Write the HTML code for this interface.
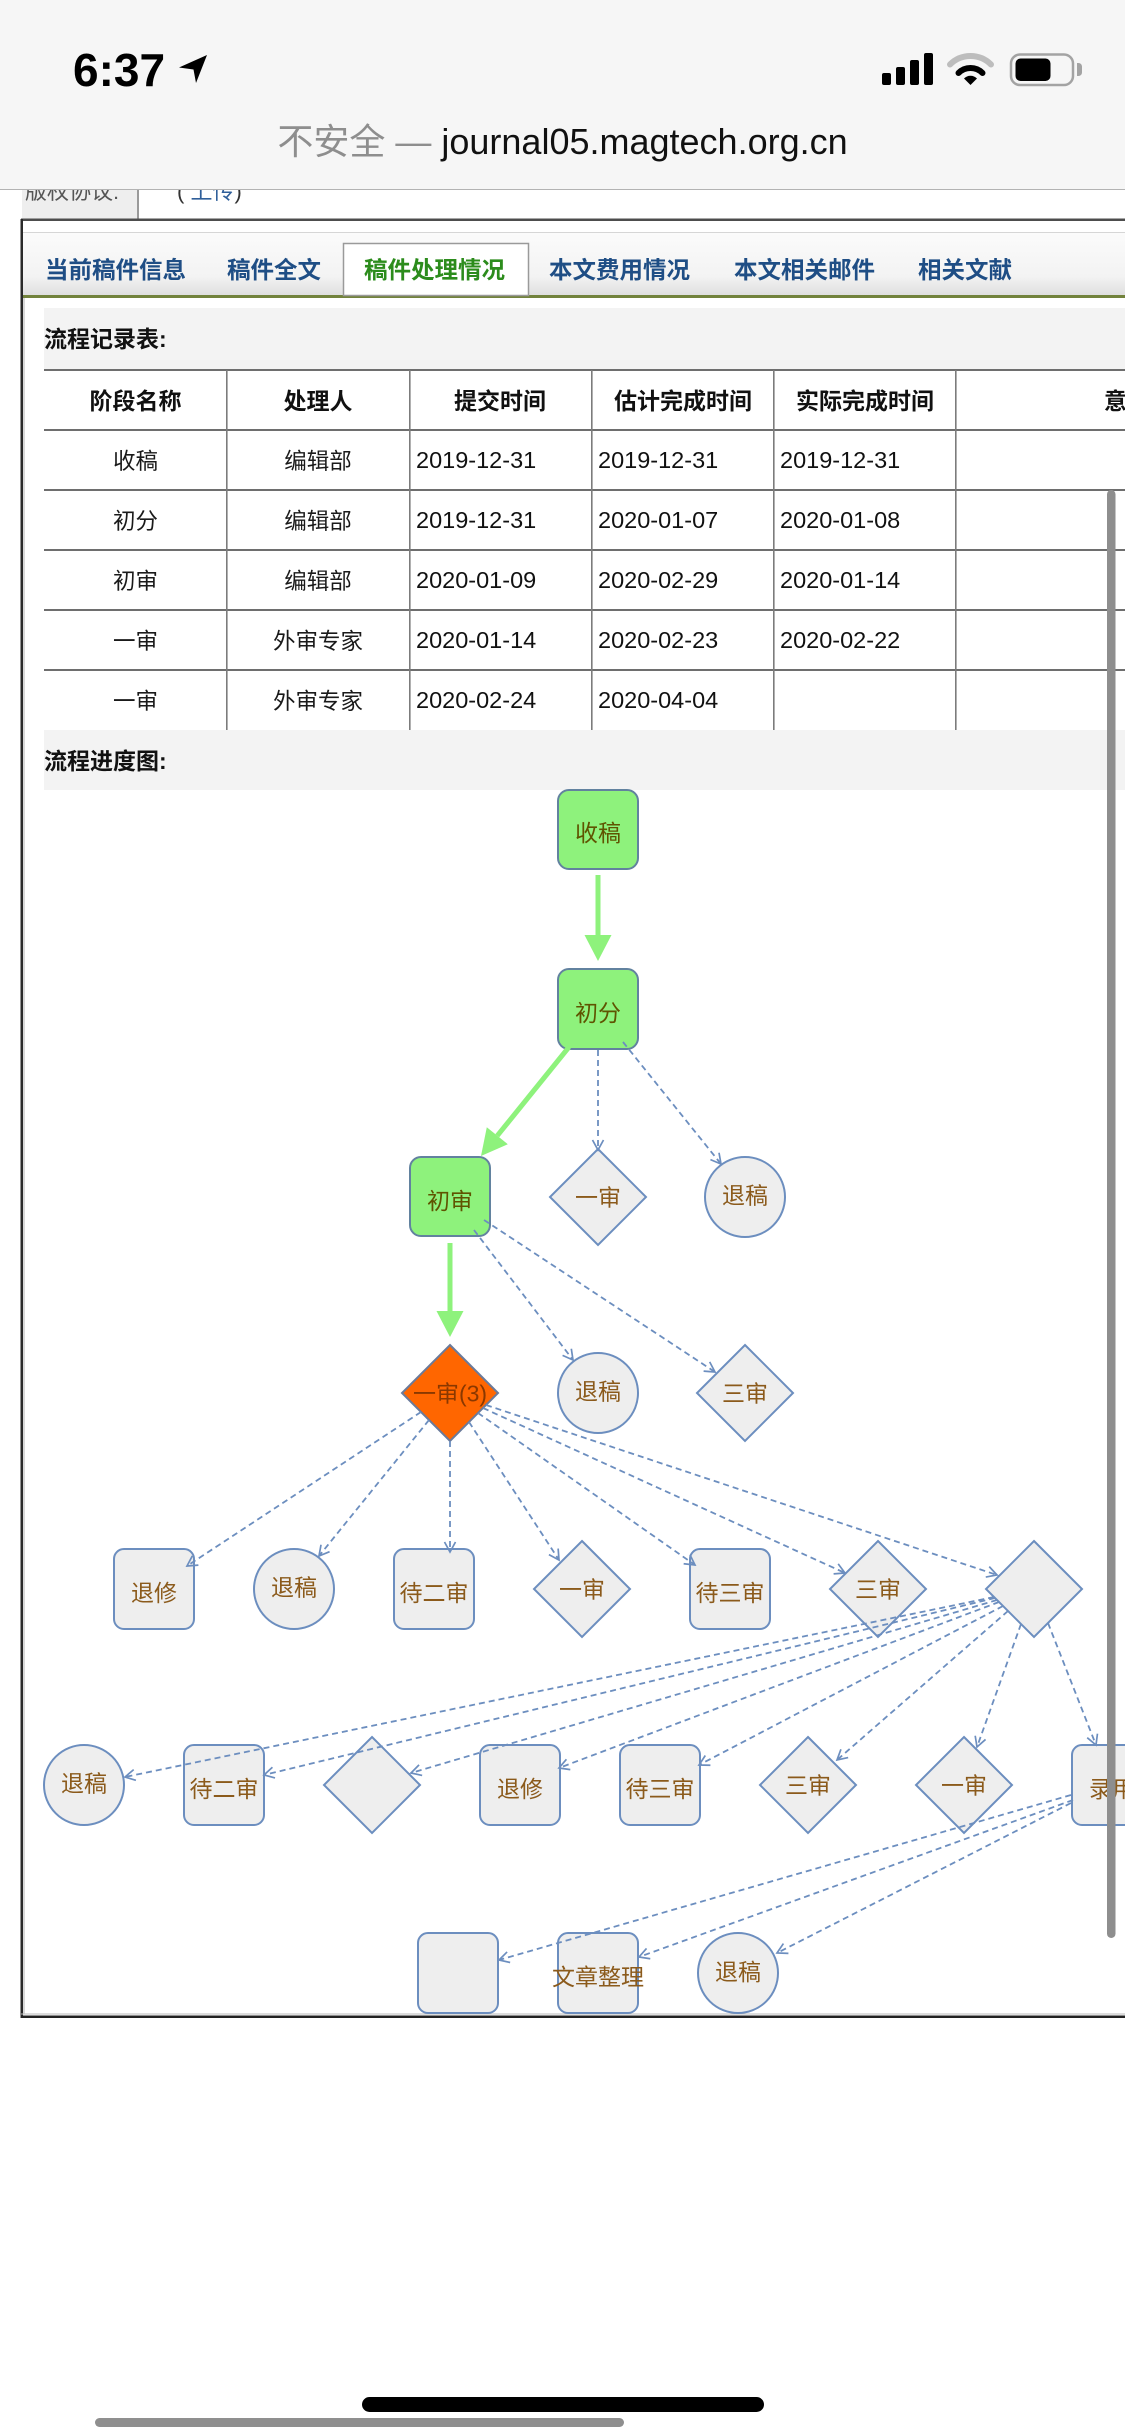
<!DOCTYPE html>
<html><head><meta charset="utf-8">
<style>
*{margin:0;padding:0;box-sizing:border-box}
html,body{width:1125px;height:2436px;overflow:hidden;background:#fff}
svg{position:absolute;left:0;top:0;display:block}
</style></head>
<body>
<svg width="1125" height="2436" viewBox="0 0 1125 2436" xmlns="http://www.w3.org/2000/svg" font-family="'Liberation Sans','Noto Sans CJK SC',sans-serif">
<defs>
<linearGradient id="tabg" x1="0" y1="0" x2="0" y2="1">
<stop offset="0" stop-color="#fbfbfb"/><stop offset="0.7" stop-color="#f3f3f3"/><stop offset="1" stop-color="#dfdfdf"/>
</linearGradient>
<marker id="a" markerUnits="userSpaceOnUse" markerWidth="14" markerHeight="14" refX="12" refY="7" orient="auto" viewBox="0 0 14 14">
<path d="M2,1.5 L12,7 L2,12.5" fill="none" stroke="#6c8ebf" stroke-width="1.7"/>
</marker>
</defs>
<rect width="1125" height="2436" fill="#fff"/>

<!-- partially hidden row -->
<rect x="22" y="160" width="116" height="59" fill="#eeeeee"/>
<rect x="137" y="160" width="2" height="59" fill="#9a9a9a"/>
<text x="25" y="199" font-size="22" fill="#555">版权协议:</text>
<text x="177" y="199" font-size="22" fill="#333">( <tspan fill="#2f5f9a">上传</tspan>)</text>

<!-- lines & tab bar -->
<rect x="21" y="218.5" width="1104" height="2.5" fill="#4d4d4d"/>
<rect x="22" y="232" width="1103" height="1" fill="#d6d6d6"/>
<rect x="22" y="233" width="1103" height="62" fill="url(#tabg)"/>
<rect x="22" y="295" width="1103" height="3" fill="#72823c"/>
<rect x="343.5" y="243.5" width="185" height="52" fill="#fff" stroke="#9a9a9a" stroke-width="1.5"/>
<g font-size="23.5" font-weight="bold" fill="#1f4e85">
<text x="45" y="278">当前稿件信息</text>
<text x="227" y="278">稿件全文</text>
<text x="364" y="278" fill="#2c8c1c">稿件处理情况</text>
<text x="549" y="278">本文费用情况</text>
<text x="734" y="278">本文相关邮件</text>
<text x="918" y="278">相关文献</text>
</g>

<!-- container borders -->
<rect x="20.5" y="219" width="2.5" height="1799" fill="#2a2a2a"/>
<rect x="23.5" y="298" width="1" height="1716" fill="#b0b0b0"/>
<rect x="21" y="2013.5" width="1104" height="1" fill="#bbbbbb"/>
<rect x="21" y="2015.5" width="1104" height="2.5" fill="#222"/>

<!-- section header 1 -->
<rect x="44" y="308" width="1081" height="62" fill="#f3f3f3"/>
<text x="44" y="347" font-size="23" font-weight="bold" fill="#111">流程记录表:</text>

<!-- table lines -->
<g fill="#6e6e6e">
<rect x="44" y="369" width="1081" height="2"/>
<rect x="44" y="429" width="1081" height="2"/>
<rect x="44" y="489" width="1081" height="2"/>
<rect x="44" y="549" width="1081" height="2"/>
<rect x="44" y="609" width="1081" height="2"/>
<rect x="44" y="669" width="1081" height="2"/>
</g>
<g fill="#7c7c7c">
<rect x="226" y="370" width="1.6" height="360"/>
<rect x="409" y="370" width="1.6" height="360"/>
<rect x="591" y="370" width="1.6" height="360"/>
<rect x="773" y="370" width="1.6" height="360"/>
<rect x="955" y="370" width="1.6" height="360"/>
</g>
<g font-size="23" font-weight="bold" fill="#111" text-anchor="middle">
<text x="135.5" y="409">阶段名称</text>
<text x="318" y="409">处理人</text>
<text x="500" y="409">提交时间</text>
<text x="683" y="409">估计完成时间</text>
<text x="865" y="409">实际完成时间</text>
<text x="1104" y="409" text-anchor="start">意见</text>
</g>
<g font-size="22.5" fill="#1a1a1a" text-anchor="middle">
<text x="135.5" y="469">收稿</text><text x="318" y="469">编辑部</text>
<text x="135.5" y="529">初分</text><text x="318" y="529">编辑部</text>
<text x="135.5" y="589">初审</text><text x="318" y="589">编辑部</text>
<text x="135.5" y="649">一审</text><text x="318" y="649">外审专家</text>
<text x="135.5" y="709">一审</text><text x="318" y="709">外审专家</text>
</g>
<g font-size="23.5" fill="#111">
<text x="416" y="468">2019-12-31</text><text x="598" y="468">2019-12-31</text><text x="780" y="468">2019-12-31</text>
<text x="416" y="528">2019-12-31</text><text x="598" y="528">2020-01-07</text><text x="780" y="528">2020-01-08</text>
<text x="416" y="588">2020-01-09</text><text x="598" y="588">2020-02-29</text><text x="780" y="588">2020-01-14</text>
<text x="416" y="648">2020-01-14</text><text x="598" y="648">2020-02-23</text><text x="780" y="648">2020-02-22</text>
<text x="416" y="708">2020-02-24</text><text x="598" y="708">2020-04-04</text>
</g>

<!-- section header 2 -->
<rect x="44" y="730" width="1081" height="60" fill="#f3f3f3"/>
<text x="44" y="769" font-size="23" font-weight="bold" fill="#111">流程进度图:</text>

<!-- ===== DIAGRAM NODES ===== -->
<g stroke-width="2">
<!-- green -->
<rect x="558" y="790" width="80" height="79" rx="11" fill="#8ef27c" stroke="#62829f"/>
<rect x="558" y="969" width="80" height="80" rx="11" fill="#8ef27c" stroke="#62829f"/>
<rect x="410" y="1157" width="80" height="79" rx="11" fill="#8ef27c" stroke="#62829f"/>
<!-- orange diamond -->
<polygon points="450,1345 498,1393 450,1441 402,1393" fill="#ff6600" stroke="#6a7a9a"/>
<!-- gray rects -->
<g fill="#eeeeee" stroke="#6c8ebf">
<rect x="114" y="1549" width="80" height="80" rx="10"/>
<rect x="394" y="1549" width="80" height="80" rx="10"/>
<rect x="690" y="1549" width="80" height="80" rx="10"/>
<rect x="184" y="1745" width="80" height="80" rx="10"/>
<rect x="480" y="1745" width="80" height="80" rx="10"/>
<rect x="620" y="1745" width="80" height="80" rx="10"/>
<rect x="1072" y="1745" width="80" height="80" rx="10"/>
<rect x="418" y="1933" width="80" height="80" rx="10"/>
<rect x="558" y="1933" width="80" height="80" rx="10"/>
<!-- circles -->
<circle cx="745" cy="1197" r="40"/>
<circle cx="598" cy="1393" r="40"/>
<circle cx="294" cy="1589" r="40"/>
<circle cx="84" cy="1785" r="40"/>
<circle cx="738" cy="1973" r="40"/>
<!-- diamonds -->
<polygon points="598,1149 646,1197 598,1245 550,1197"/>
<polygon points="745,1345 793,1393 745,1441 697,1393"/>
<polygon points="582,1541 630,1589 582,1637 534,1589"/>
<polygon points="878,1541 926,1589 878,1637 830,1589"/>
<polygon points="1034,1541 1082,1589 1034,1637 986,1589"/>
<polygon points="372,1737 420,1785 372,1833 324,1785"/>
<polygon points="808,1737 856,1785 808,1833 760,1785"/>
<polygon points="964,1737 1012,1785 964,1833 916,1785"/>
</g>
</g>

<!-- node labels -->
<g font-size="23" text-anchor="middle" fill="#5f5400">
<text x="598" y="841">收稿</text>
<text x="598" y="1021">初分</text>
<text x="450" y="1209">初审</text>
</g>
<text x="450" y="1401.5" font-size="23" text-anchor="middle" fill="#8a3800">一审(3)</text>
<g font-size="23" text-anchor="middle" fill="#8b5a1b">
<text x="598" y="1205.5">一审</text>
<text x="745" y="1203.5">退稿</text>
<text x="598" y="1399.5">退稿</text>
<text x="745" y="1401.5">三审</text>
<text x="154" y="1601">退修</text>
<text x="294" y="1595.5">退稿</text>
<text x="434" y="1601">待二审</text>
<text x="582" y="1597.5">一审</text>
<text x="730" y="1601">待三审</text>
<text x="878" y="1597.5">三审</text>
<text x="84" y="1791.5">退稿</text>
<text x="224" y="1797">待二审</text>
<text x="520" y="1797">退修</text>
<text x="660" y="1797">待三审</text>
<text x="808" y="1793.5">三审</text>
<text x="964" y="1793.5">一审</text>
<text x="1112" y="1797">录用</text>
<text x="598" y="1985">文章整理</text>
<text x="738" y="1980">退稿</text>
</g>

<!-- ===== EDGES ===== -->
<!-- green -->
<g fill="#8ef27c">
<rect x="595.5" y="875" width="5" height="61"/>
<polygon points="584.5,935 611.5,935 598,961"/>
<rect x="447.5" y="1243" width="5" height="69"/>
<polygon points="436.5,1311 463.5,1311 450,1337"/>
<polygon points="507.8,1144.2 486.8,1127.3 481,1156"/>
</g>
<line x1="569" y1="1047" x2="497.3" y2="1135.7" stroke="#8ef27c" stroke-width="5"/>

<!-- dashed -->
<g stroke="#6c8ebf" stroke-width="1.8" stroke-dasharray="6 4" fill="none" marker-end="url(#a)">
<path d="M598,1050 L598,1150"/>
<path d="M623,1042 L721,1164"/>
<path d="M474,1230 L573,1360"/>
<path d="M484,1220 L715,1372"/>
<path d="M421,1412 L187,1566"/>
<path d="M429,1420 L319,1556"/>
<path d="M450,1441 L450,1552"/>
<path d="M469,1422 L559,1560"/>
<path d="M478,1413 L695,1565"/>
<path d="M483,1408 L845,1573"/>
<path d="M486,1405 L997,1575"/>
<path d="M994,1597 L125,1777"/>
<path d="M995,1598 L264,1775"/>
<path d="M997,1600 L411,1773"/>
<path d="M999,1602 L559,1768"/>
<path d="M1003,1606 L699,1765"/>
<path d="M1008,1611 L837,1760"/>
<path d="M1021,1624 L977,1747"/>
<path d="M1048,1623 L1096,1745"/>
<path d="M1071,1795 L499,1960"/>
<path d="M1073,1800 L639,1957"/>
<path d="M1071,1803 L777,1953"/>
</g>

<!-- scrollbar -->
<rect x="1107" y="490" width="8.5" height="1448" rx="4.2" fill="#8e8e8e"/>

<!-- ===== BROWSER CHROME ===== -->
<rect x="0" y="0" width="1125" height="189" fill="#f6f6f6"/>
<rect x="0" y="189" width="1125" height="1" fill="#b3b3b3"/>
<text x="73" y="86" font-size="46" font-weight="bold" fill="#000">6:37</text>
<polygon points="207,55 179,67.5 193.5,69.5 196,83" fill="#000"/>
<g fill="#000">
<rect x="882" y="73" width="9" height="12" rx="2"/>
<rect x="896" y="67" width="9" height="18" rx="2"/>
<rect x="910" y="60" width="9" height="25" rx="2"/>
<rect x="924" y="53" width="9" height="32" rx="2"/>
</g>
<path d="M950,64.5 A29,29 0 0 1 991,64.5" fill="none" stroke="#bdbdbd" stroke-width="6" stroke-linecap="round"/>
<path d="M958.5,73 A17,17 0 0 1 982.5,73" fill="none" stroke="#000" stroke-width="6" stroke-linecap="round"/>
<path d="M970.5,85 L964,78.5 A9,9 0 0 1 977,78.5 Z" fill="#000"/>
<rect x="1011" y="54.5" width="62" height="30.5" rx="9" fill="none" stroke="#a3a3a3" stroke-width="2.5"/>
<rect x="1015.5" y="58.5" width="35" height="22.5" rx="5" fill="#000"/>
<path d="M1077,63 h1.5 a3.5,3.5 0 0 1 3.5,3.5 v6 a3.5,3.5 0 0 1 -3.5,3.5 h-1.5 Z" fill="#a3a3a3"/>
<text x="562.5" y="154" font-size="36" text-anchor="middle" fill="#111"><tspan fill="#8e8e8e">不安全 — </tspan>journal05.magtech.org.cn</text>

<!-- home indicator -->
<rect x="362" y="2397" width="402" height="15" rx="7.5" fill="#000"/>
<rect x="95" y="2418" width="529" height="9" rx="4.5" fill="#8f8f8f"/>
</svg>
</body></html>
